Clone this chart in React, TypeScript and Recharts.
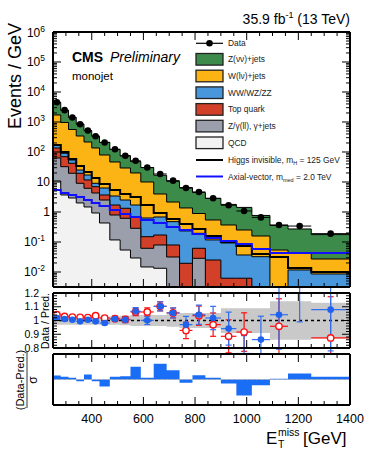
import React from "react";
import {
  ComposedChart,
  Area,
  Line,
  Scatter,
  XAxis,
  YAxis,
  ErrorBar,
  ReferenceLine,
} from "recharts";

const FONT = "'Liberation Sans', Arial, Helvetica, sans-serif";

// bin edges in GeV
const edges = [250, 280, 310, 340, 370, 400, 430, 470, 510, 550, 590, 640, 690, 740, 790, 840, 900, 960, 1020, 1090, 1160, 1250, 1400];

// events / GeV
const dataObs = [4560, 2480, 1420, 844, 522, 336, 207, 123, 75, 51, 30.3, 18.5, 11.1, 6.3, 4.66, 2.87, 1.68, 1.08, 0.66, 0.37, 0.34, 0.19];
const dataErr = [12, 9, 7, 5, 4, 3, 2.3, 1.8, 1.4, 1.1, 0.8, 0.6, 0.5, 0.35, 0.3, 0.22, 0.17, 0.13, 0.1, 0.07, 0.06, 0.035];
const znunu = [2769, 1491, 849, 508, 304, 202, 131.6, 75.3, 45.3, 27.8, 20.3, 12.8, 8.35, 5.14, 3.58, 2.28, 1.42, 1.17, 0.609, 0.301, 0.229, 0.149];
const wlnu = [1540, 872, 508, 316, 198, 127, 73.1, 43.0, 26.8, 18.3, 9.37, 3.3, 1.67, 1.13, 0.696, 0.424, 0.276, 0.214, 0.126, 0.0515, 0.0313, 0.0185];
const diboson = [35, 20.8, 12.1, 5.6, 5.4, 2.08, 2.62, 1.7, 1.18, 1.01, 0.481, 0.51, 0.397, 0.214, 0.133, 0.092, 0.0865, 0.0307, 0.0309, 0.001, 0.0102, 0.0071];
const topQuark = [72.9, 37.3, 22.5, 10.45, 5.53, 2.67, 1.18, 0.916, 0.714, 0.414, 0.0883, 0.0916, 0.0478, 0.0185, 0.0331, 0.0241, 0.0052, 0.0052, 0.0005, 0.0005, 0.0005, 0.0005];
const zll = [52.3, 28.7, 16.6, 7.05, 4.7, 3.37, 2.08, 0.677, 0.562, 0.257, 0.047, 0.0661, 0.0311, 0.0005, 0.0281, 0.0005, 0.0005, 0.0005, 0.0005, 0.0005, 0.0005, 0.0005];
const qcd = [10.8, 3.69, 2.93, 2.0, 1.47, 0.926, 0.43, 0.117, 0.054, 0.0293, 0.0147, 0.0133, 0.0005, 0.0005, 0.0005, 0.0005, 0.0005, 0.0005, 0.0005, 0.0005, 0.0005, 0.0005];
const higgsInv = [171, 100, 58.4, 34.1, 21.5, 13.6, 8.58, 5.41, 3.98, 3.16, 1.71, 0.926, 0.585, 0.398, 0.271, 0.158, 0.1, 0.0736, 0.0398, 0.0316, 0.0136, 0.01];
const axialVec = [5.41, 4.3, 3.69, 3.16, 2.51, 2.0, 1.58, 1.17, 0.858, 0.681, 0.541, 0.43, 0.316, 0.251, 0.185, 0.136, 0.108, 0.0858, 0.0585, 0.043, 0.043, 0.043];

// data / prediction
const ratioPost = [1.018, 1.011, 1.006, 0.994, 1.006, 0.994, 0.982, 1.011, 1.006, 1.067, 1.001, 1.103, 1.055, 0.97, 1.042, 1.018, 0.941, 0.76, 0.861, 1.042, 1.25, 1.079];
const ratioPostErr = [0.006, 0.007, 0.008, 0.01, 0.012, 0.014, 0.014, 0.018, 0.022, 0.027, 0.03, 0.033, 0.036, 0.06, 0.07, 0.085, 0.12, 0.13, 0.17, 0.25, 0.26, 0.3];
const ratioPre = [1.042, 1.03, 1.025, 1.023, 1.021, 1.035, 1.018, 1.013, 1.008, 1.062, 1.062, 1.103, 1.055, 0.928, 1.035, 0.97, 0.885, 0.916, 0.55, 0.958, 1.5, 0.873];
const ratioPreErr = [0.006, 0.007, 0.008, 0.01, 0.012, 0.014, 0.014, 0.018, 0.022, 0.027, 0.03, 0.033, 0.036, 0.06, 0.07, 0.085, 0.12, 0.14, 0.17, 0.2, 0.26, 0.3];
const bandHalf = [0.03, 0.03, 0.03, 0.03, 0.03, 0.03, 0.03, 0.03, 0.035, 0.04, 0.04, 0.04, 0.045, 0.055, 0.055, 0.055, 0.09, 0.09, 0.09, 0.14, 0.14, 0.13];

// (data - pred) / sigma
const pulls = [0.47, 0.32, 0.2, -0.2, 0.59, -0.2, -0.82, 0.32, 0.39, 1.49, 0.2, 1.85, 1.09, -0.39, 0.51, 0.2, -0.47, -1.88, -0.67, 0.08, 0.71, 0.32];

const xLabels = [400, 600, 800, 1000, 1200, 1400];
const xTicks = Array.from({ length: 24 }, (_, i) => 250 + 50 * i);
const decades = [-2, -1, 0, 1, 2, 3, 4, 5, 6];
const YMIN = 0.00316;
const logTicks: number[] = [];
for (let e = -3; e <= 5; e++) {
  for (let k = 1; k <= 9; k++) {
    const v = k * Math.pow(10, e);
    if (v >= YMIN && v <= 1e6) logTicks.push(v);
  }
}
logTicks.push(1e6);
const ratioLabels = [0.8, 0.9, 1, 1.1, 1.2];
const ratioTicks = Array.from({ length: 21 }, (_, i) => +(0.8 + 0.02 * i).toFixed(2));

const stackOrder = [qcd, zll, topQuark, diboson, wlnu, znunu];
const stackKeys = ["qcd", "zll", "top", "vv", "w", "z"];
const stackFill: Record<string, string> = {
  z: "#3d8b4a",
  w: "#fcb415",
  vv: "#4897dc",
  top: "#d2402a",
  zll: "#9b9eab",
  qcd: "#f2f2f2",
};

const nb = dataObs.length;
const rows = edges.map((x, i) => {
  const j = Math.min(i, nb - 1);
  const r: any = { x };
  let acc = 0;
  stackOrder.forEach((arr, k) => {
    acc += arr[j];
    r[stackKeys[k]] = acc;
  });
  r.higgs = higgsInv[j];
  r.axial = axialVec[j];
  r.band = [1 - bandHalf[j], 1 + bandHalf[j]];
  r.pull = pulls[j];
  return r;
});

const centers = dataObs.map((_, i) => ({ x: (edges[i] + edges[i + 1]) / 2, ex: (edges[i + 1] - edges[i]) / 2 }));
const obsPts = centers.map((c, i) => ({ ...c, y: dataObs[i], ey: dataErr[i] }));
const prePts = centers.map((c, i) => ({ ...c, y: ratioPre[i], ey: ratioPreErr[i] }));
const postPts = centers.map((c, i) => ({ ...c, y: ratioPost[i], ey: ratioPostErr[i] }));

const frame = { stroke: "#000", strokeWidth: 2 };

function XTick(props: any) {
  const { x, y, payload, side, labels } = props;
  const v = payload.value;
  const major = v % 200 === 0;
  const len = major ? 8 : 4;
  const dir = side === "bottom" ? -1 : 1;
  return (
    <g>
      <line x1={x} x2={x} y1={y} y2={y + dir * len} stroke="#000" strokeWidth={1} />
      {labels && xLabels.includes(v) && (
        <text x={x} y={y + 18} textAnchor="middle" fontSize={12.5} fontFamily={FONT} fill="#000">
          {v}
        </text>
      )}
    </g>
  );
}

function LogTick(props: any) {
  const { x, y, payload, side } = props;
  const v = payload.value;
  const e = Math.round(Math.log10(v));
  const major = Math.abs(Math.log10(v) - e) < 1e-6;
  const len = major ? 8 : 4;
  const dir = side === "left" ? 1 : -1;
  let label: React.ReactNode = null;
  if (side === "left" && major && decades.includes(e)) {
    label =
      e === 0 ? "1" : e === 1 ? "10" : (
        <>
          10
          <tspan dy={-5} fontSize={8.5}>
            {e}
          </tspan>
        </>
      );
  }
  return (
    <g>
      <line x1={x} x2={x + dir * len} y1={y} y2={y} stroke="#000" strokeWidth={1} />
      {label && (
        <text x={x - (e === 0 || e === 1 ? 3 : 8)} y={y + 4.5} textAnchor="end" fontSize={12} fontFamily={FONT} fill="#000">
          {label}
        </text>
      )}
    </g>
  );
}

function RatioTick(props: any) {
  const { x, y, payload, side } = props;
  const v = payload.value;
  const major = ratioLabels.some((l) => Math.abs(l - v) < 1e-6);
  const len = major ? 8 : 4;
  const dir = side === "left" ? 1 : -1;
  return (
    <g>
      <line x1={x} x2={x + dir * len} y1={y} y2={y} stroke="#000" strokeWidth={1} />
      {side === "left" && major && (
        <text x={x - 14} y={y + 3.5} textAnchor="end" fontSize={10.5} fontFamily={FONT} fill="#000">
          {String(v)}
        </text>
      )}
    </g>
  );
}

function xAxes(labels: boolean, bottomHeight: number) {
  return [
    <XAxis
      key="xb"
      dataKey="x"
      type="number"
      domain={[250, 1400]}
      allowDataOverflow
      ticks={xTicks}
      interval={0}
      tickSize={0}
      tickMargin={0}
      height={bottomHeight}
      axisLine={frame}
      tickLine={false}
      tick={(p: any) => <XTick {...p} side="bottom" labels={labels} />}
    />,
    <XAxis
      key="xt"
      xAxisId="t"
      orientation="top"
      dataKey="x"
      type="number"
      domain={[250, 1400]}
      allowDataOverflow
      ticks={xTicks}
      interval={0}
      tickSize={0}
      tickMargin={0}
      height={2}
      axisLine={frame}
      tickLine={false}
      tick={(p: any) => <XTick {...p} side="top" />}
    />,
  ];
}

const dot = (p: any) => <circle cx={p.cx} cy={p.cy} r={3.3} fill="#000" />;
const openRed = (p: any) => <circle cx={p.cx} cy={p.cy} r={3.2} fill="#fff" stroke="#ff1010" strokeWidth={1.4} />;
const fullBlue = (p: any) => <circle cx={p.cx} cy={p.cy} r={3.3} fill="#1f62ee" />;

function MainPanel() {
  return (
    <ComposedChart width={366} height={290} data={rows} margin={{ top: 30, right: 0, bottom: 0, left: 13 }}>
      {xAxes(false, 3)}
      <YAxis
        type="number"
        scale="log"
        domain={[YMIN, 1e6]}
        allowDataOverflow
        ticks={logTicks}
        interval={0}
        width={40}
        tickSize={0}
        tickMargin={0}
        axisLine={frame}
        tickLine={false}
        tick={(p: any) => <LogTick {...p} side="left" />}
      />
      <YAxis
        yAxisId="r"
        orientation="right"
        type="number"
        scale="log"
        domain={[YMIN, 1e6]}
        allowDataOverflow
        ticks={logTicks}
        interval={0}
        width={16}
        tickSize={0}
        tickMargin={0}
        axisLine={frame}
        tickLine={false}
        tick={(p: any) => <LogTick {...p} side="right" />}
      />
      {stackKeys
        .slice()
        .reverse()
        .map((k) => (
          <Area
            key={k}
            dataKey={k}
            type="stepAfter"
            baseValue="dataMin"
            fill={stackFill[k]}
            fillOpacity={1}
            stroke="#000"
            strokeWidth={1}
            dot={false}
            activeDot={false}
            isAnimationActive={false}
          />
        ))}
      <Line dataKey="higgs" type="stepAfter" stroke="#000" strokeWidth={2} dot={false} activeDot={false} isAnimationActive={false} />
      <Line dataKey="axial" type="stepAfter" stroke="#1010ff" strokeWidth={2} dot={false} activeDot={false} isAnimationActive={false} />
      <Scatter data={obsPts} dataKey="y" shape={dot} isAnimationActive={false}>
        <ErrorBar dataKey="ex" direction="x" width={0} stroke="#000" strokeWidth={1} />
        <ErrorBar dataKey="ey" direction="y" width={0} stroke="#000" strokeWidth={1} />
      </Scatter>
    </ComposedChart>
  );
}

function RatioPanel() {
  return (
    <ComposedChart width={366} height={66} data={rows} margin={{ top: 3, right: 0, bottom: 3, left: 13 }}>
      {xAxes(false, 3)}
      <YAxis
        type="number"
        domain={[0.8, 1.2]}
        allowDataOverflow
        ticks={ratioTicks}
        interval={0}
        width={40}
        tickSize={0}
        tickMargin={0}
        axisLine={frame}
        tickLine={false}
        tick={(p: any) => <RatioTick {...p} side="left" />}
      />
      <YAxis
        yAxisId="r"
        orientation="right"
        type="number"
        domain={[0.8, 1.2]}
        allowDataOverflow
        ticks={ratioTicks}
        interval={0}
        width={16}
        tickSize={0}
        tickMargin={0}
        axisLine={frame}
        tickLine={false}
        tick={(p: any) => <RatioTick {...p} side="right" />}
      />
      <Area dataKey="band" type="stepAfter" fill="#c9c9c9" fillOpacity={1} stroke="none" dot={false} activeDot={false} isAnimationActive={false} />
      <ReferenceLine y={1} stroke="#000" strokeDasharray="3 3" strokeWidth={1.3} />
      <Scatter data={prePts} dataKey="y" shape={openRed} isAnimationActive={false}>
        <ErrorBar dataKey="ex" direction="x" width={0} stroke="#ff1010" strokeWidth={1.2} />
        <ErrorBar dataKey="ey" direction="y" width={3} stroke="#ff1010" strokeWidth={1.2} />
      </Scatter>
      <Scatter data={postPts} dataKey="y" shape={fullBlue} isAnimationActive={false}>
        <ErrorBar dataKey="ex" direction="x" width={0} stroke="#2f6ff0" strokeWidth={1.2} />
        <ErrorBar dataKey="ey" direction="y" width={3} stroke="#2f6ff0" strokeWidth={1.2} />
      </Scatter>
    </ComposedChart>
  );
}

function PullPanel() {
  return (
    <ComposedChart width={366} height={101} data={rows} margin={{ top: 2, right: 0, bottom: 0, left: 13 }}>
      {xAxes(true, 46)}
      <YAxis type="number" domain={[-3, 3]} allowDataOverflow width={40} tick={false} tickLine={false} axisLine={frame} />
      <YAxis yAxisId="r" orientation="right" type="number" domain={[-3, 3]} allowDataOverflow width={16} tick={false} tickLine={false} axisLine={frame} />
      <Area dataKey="pull" type="stepAfter" fill="#1a6ef5" fillOpacity={1} stroke="none" dot={false} activeDot={false} isAnimationActive={false} />
      <ReferenceLine y={0} stroke="#9aa6b8" strokeDasharray="3 2" strokeWidth={1.2} />
    </ComposedChart>
  );
}

const legendBoxes = [
  { label: "Z(νν)+jets", color: stackFill.z },
  { label: "W(lν)+jets", color: stackFill.w },
  { label: "WW/WZ/ZZ", color: stackFill.vv },
  { label: "Top quark", color: stackFill.top },
  { label: "Z/γ(ll), γ+jets", color: stackFill.zll },
  { label: "QCD", color: stackFill.qcd },
];

function Overlay() {
  const lx = 196;
  const tx = 228;
  const fs = 8.4;
  return (
    <svg width={366} height={451} style={{ position: "absolute", left: 0, top: 0, pointerEvents: "none" }} fontFamily={FONT}>
      <text x={350} y={24} textAnchor="end" fontSize={14} fill="#000">
        35.9 fb<tspan dy={-6} fontSize={9}>-1</tspan>
        <tspan dy={6}> (13 TeV)</tspan>
      </text>
      <text x={72} y={62} fontSize={14} fontWeight="bold" fill="#000">
        CMS
      </text>
      <text x={110} y={62} fontSize={14} fontStyle="italic" fill="#000">
        Preliminary
      </text>
      <text x={72} y={80} fontSize={11.5} fill="#000">
        monojet
      </text>
      <text transform="translate(21,23) rotate(-90)" textAnchor="end" fontSize={18} fill="#000">
        Events / GeV
      </text>
      <text transform="translate(49,321) rotate(-90)" textAnchor="middle" fontSize={10.5} fill="#000">
        Data / Pred.
      </text>
      <text transform="translate(24,380) rotate(-90)" textAnchor="middle" fontSize={11} fill="#000">
        (Data-Pred.)
      </text>
      <line x1={27} x2={27} y1={352} y2={408} stroke="#000" strokeWidth={0.8} />
      <text transform="translate(37,380) rotate(-90)" textAnchor="middle" fontSize={12} fill="#000">
        σ
      </text>
      <text x={266} y={444} fontSize={17} fill="#000">
        E
      </text>
      <text x={278} y={436} fontSize={10.5} fill="#000">
        miss
      </text>
      <text x={278} y={448} fontSize={10.5} fill="#000">
        T
      </text>
      <text x={303} y={444} fontSize={17} fill="#000">
        [GeV]
      </text>

      <line x1={lx} x2={lx + 27} y1={43.3} y2={43.3} stroke="#000" strokeWidth={1.2} />
      <circle cx={lx + 13.5} cy={43.3} r={3.3} fill="#000" />
      <text x={tx} y={46.3} fontSize={fs} fill="#222">
        Data
      </text>
      {legendBoxes.map((b, i) => {
        const cy = 59.3 + i * 16.7;
        return (
          <g key={b.label}>
            <rect x={lx} y={cy - 5.8} width={27} height={11.6} fill={b.color} stroke="#222" strokeWidth={1.3} />
            <text x={tx} y={cy + 3} fontSize={fs} fill="#222">
              {b.label}
            </text>
          </g>
        );
      })}
      <line x1={lx} x2={lx + 27} y1={160} y2={160} stroke="#000" strokeWidth={2} />
      <text x={tx} y={163} fontSize={fs} fill="#222">
        Higgs invisible, m<tspan dy={2} fontSize={5.5}>H</tspan>
        <tspan dy={-2}> = 125 GeV</tspan>
      </text>
      <line x1={lx} x2={lx + 27} y1={176.5} y2={176.5} stroke="#1010ff" strokeWidth={2} />
      <text x={tx} y={179.5} fontSize={fs} fill="#222">
        Axial-vector, m<tspan dy={2} fontSize={5.5}>med</tspan>
        <tspan dy={-2}> = 2.0 TeV</tspan>
      </text>
    </svg>
  );
}

export default function App() {
  return (
    <div style={{ position: "relative", width: 366, height: 451, background: "#fff", fontFamily: FONT }}>
      <style>{"body{margin:0;}"}</style>
      <div style={{ position: "absolute", left: 0, top: 0 }}>
        <MainPanel />
      </div>
      <div style={{ position: "absolute", left: 0, top: 288 }}>
        <RatioPanel />
      </div>
      <div style={{ position: "absolute", left: 0, top: 350 }}>
        <PullPanel />
      </div>
      <Overlay />
    </div>
  );
}
